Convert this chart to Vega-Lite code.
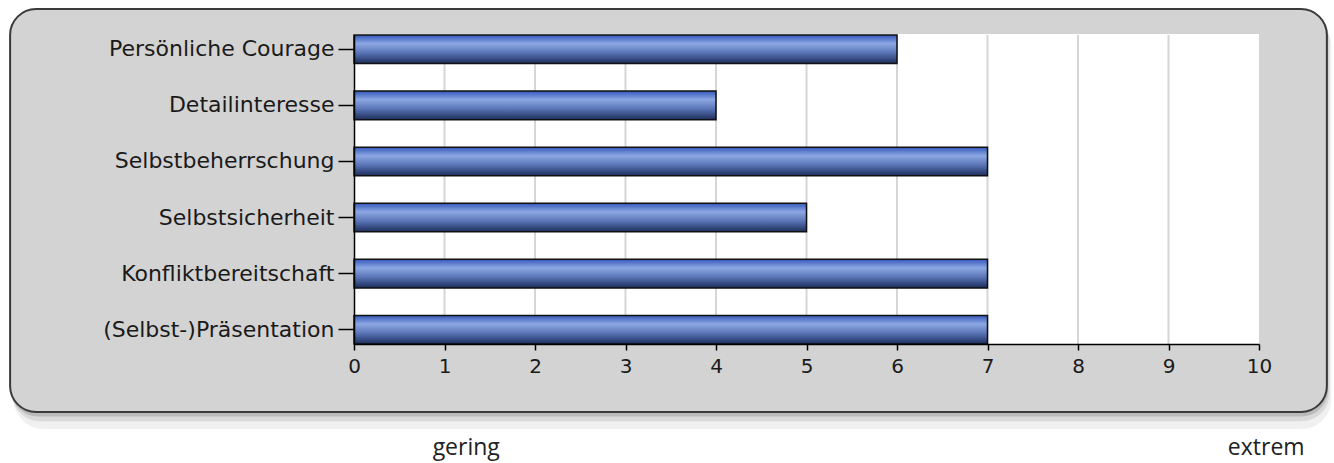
{
  "$schema": "https://vega.github.io/schema/vega-lite/v6.json",
  "width": 905,
  "height": 309,
  "autosize": {"type": "none"},
  "padding": {"left": 354, "top": 35, "right": 75, "bottom": 119},
  "background": "white",
  "config": {
    "view": {"stroke": null, "fill": null},
    "font": "DejaVu Sans"
  },
  "data": {"values": [
    {"name": "Persönliche Courage", "value": 6},
    {"name": "Detailinteresse", "value": 4},
    {"name": "Selbstbeherrschung", "value": 7},
    {"name": "Selbstsicherheit", "value": 5},
    {"name": "Konfliktbereitschaft", "value": 7},
    {"name": "(Selbst-)Präsentation", "value": 7}
  ]},
  "resolve": {"scale": {"y": "independent"}},
  "layer": [
    {
      "data": {"values": [{}]},
      "mark": {"type": "rect", "fill": "#000000", "opacity": 0.06, "cornerRadius": 30},
      "encoding": {
        "x": {"datum": -3.76, "type": "quantitative", "scale": {"domain": [0, 10]},
          "axis": {"title": null, "zindex": 1, "values": [0, 1, 2, 3, 4, 5, 6, 7, 8, 9, 10], "grid": false,
            "labelFont": "DejaVu Sans", "labelFontSize": 20, "labelColor": "#1a1a1a", "labelAngle": 0,
            "tickSize": 6, "tickColor": "#000000", "tickWidth": 1.5, "domainColor": "#000000", "domainWidth": 1.5,
            "labelPadding": 6, "labelFlush": false}},
        "x2": {"datum": 10.8},
        "y": {"datum": 1.06, "type": "quantitative", "scale": {"domain": [0, 1]}, "axis": null},
        "y2": {"datum": -0.275}
      }
    },
    {
      "data": {"values": [{}]},
      "mark": {"type": "rect", "fill": "#000000", "opacity": 0.09, "cornerRadius": 28},
      "encoding": {
        "x": {"datum": -3.78, "type": "quantitative", "scale": {"domain": [0, 10]},
          "axis": {"title": null, "zindex": 1, "values": [0, 1, 2, 3, 4, 5, 6, 7, 8, 9, 10], "grid": false,
            "labelFont": "DejaVu Sans", "labelFontSize": 20, "labelColor": "#1a1a1a", "labelAngle": 0,
            "tickSize": 6, "tickColor": "#000000", "tickWidth": 1.5, "domainColor": "#000000", "domainWidth": 1.5,
            "labelPadding": 6, "labelFlush": false}},
        "x2": {"datum": 10.78},
        "y": {"datum": 1.07, "type": "quantitative", "scale": {"domain": [0, 1]}, "axis": null},
        "y2": {"datum": -0.25}
      }
    },
    {
      "data": {"values": [{}]},
      "mark": {"type": "rect", "fill": "#000000", "opacity": 0.14, "cornerRadius": 27},
      "encoding": {
        "x": {"datum": -3.79, "type": "quantitative", "scale": {"domain": [0, 10]},
          "axis": {"title": null, "zindex": 1, "values": [0, 1, 2, 3, 4, 5, 6, 7, 8, 9, 10], "grid": false,
            "labelFont": "DejaVu Sans", "labelFontSize": 20, "labelColor": "#1a1a1a", "labelAngle": 0,
            "tickSize": 6, "tickColor": "#000000", "tickWidth": 1.5, "domainColor": "#000000", "domainWidth": 1.5,
            "labelPadding": 6, "labelFlush": false}},
        "x2": {"datum": 10.765},
        "y": {"datum": 1.078, "type": "quantitative", "scale": {"domain": [0, 1]}, "axis": null},
        "y2": {"datum": -0.235}
      }
    },
    {
      "data": {"values": [{}]},
      "mark": {"type": "rect", "fill": "#d3d3d3", "stroke": "#3a3a3a", "strokeWidth": 2, "cornerRadius": 26},
      "encoding": {
        "x": {"datum": -3.8, "type": "quantitative", "scale": {"domain": [0, 10]},
          "axis": {"title": null, "zindex": 1, "values": [0, 1, 2, 3, 4, 5, 6, 7, 8, 9, 10], "grid": false,
            "labelFont": "DejaVu Sans", "labelFontSize": 20, "labelColor": "#1a1a1a", "labelAngle": 0,
            "tickSize": 6, "tickColor": "#000000", "tickWidth": 1.5, "domainColor": "#000000", "domainWidth": 1.5,
            "labelPadding": 6, "labelFlush": false}},
        "x2": {"datum": 10.75},
        "y": {"datum": 1.084, "type": "quantitative", "scale": {"domain": [0, 1]}, "axis": null},
        "y2": {"datum": -0.22}
      }
    },
    {
      "data": {"values": [{}]},
      "mark": {"type": "rect", "fill": "#ffffff"},
      "encoding": {
        "x": {"datum": 0, "type": "quantitative", "scale": {"domain": [0, 10]},
          "axis": {"title": null, "zindex": 1, "values": [0, 1, 2, 3, 4, 5, 6, 7, 8, 9, 10], "grid": false,
            "labelFont": "DejaVu Sans", "labelFontSize": 20, "labelColor": "#1a1a1a", "labelAngle": 0,
            "tickSize": 6, "tickColor": "#000000", "tickWidth": 1.5, "domainColor": "#000000", "domainWidth": 1.5,
            "labelPadding": 6, "labelFlush": false}},
        "x2": {"datum": 10},
        "y": {"datum": 0, "type": "quantitative", "scale": {"domain": [0, 1]}, "axis": null},
        "y2": {"datum": 1.003}
      }
    },
    {
      "data": {"values": [{"v": 1}, {"v": 2}, {"v": 3}, {"v": 4}, {"v": 5}, {"v": 6}, {"v": 7}, {"v": 8}, {"v": 9}]},
      "mark": {"type": "rule", "color": "#d6d6d6", "strokeWidth": 2},
      "encoding": {
        "x": {"field": "v", "type": "quantitative", "scale": {"domain": [0, 10]},
          "axis": {"title": null, "zindex": 1, "values": [0, 1, 2, 3, 4, 5, 6, 7, 8, 9, 10], "grid": false,
            "labelFont": "DejaVu Sans", "labelFontSize": 20, "labelColor": "#1a1a1a", "labelAngle": 0,
            "tickSize": 6, "tickColor": "#000000", "tickWidth": 1.5, "domainColor": "#000000", "domainWidth": 1.5,
            "labelPadding": 6, "labelFlush": false}}
      }
    },
    {
      "mark": {
        "type": "bar",
        "fill": {
          "gradient": "linear",
          "x1": 0, "y1": 0, "x2": 0, "y2": 1,
          "stops": [
            {"offset": 0, "color": "#3458bb"},
            {"offset": 0.3, "color": "#8ca7e2"},
            {"offset": 0.6, "color": "#5d79ba"},
            {"offset": 1, "color": "#1c2d5c"}
          ]
        },
        "stroke": "#111111",
        "strokeWidth": 1.5
      },
      "encoding": {
        "y": {
          "field": "name", "type": "nominal", "sort": null,
          "scale": {"paddingInner": 0.49, "paddingOuter": 0},
          "axis": {
            "title": null, "labelFont": "DejaVu Sans", "labelFontSize": 22, "labelColor": "#1a1a1a",
            "tickSize": 16, "tickColor": "#000000", "tickWidth": 1.5, "labelPadding": 4,
            "domainColor": "#000000", "domainWidth": 1.5, "zindex": 1, "labelLimit": 400
          }
        },
        "x": {
          "field": "value", "type": "quantitative", "scale": {"domain": [0, 10]},
          "axis": {"title": null, "zindex": 1, "values": [0, 1, 2, 3, 4, 5, 6, 7, 8, 9, 10], "grid": false,
            "labelFont": "DejaVu Sans", "labelFontSize": 20, "labelColor": "#1a1a1a", "labelAngle": 0,
            "tickSize": 6, "tickColor": "#000000", "tickWidth": 1.5, "domainColor": "#000000", "domainWidth": 1.5,
            "labelPadding": 6, "labelFlush": false}
        }
      }
    },
    {
      "data": {"values": [{}]},
      "mark": {"type": "text", "text": "gering", "font": "Open Sans", "fontSize": 23, "color": "#222222", "align": "center", "baseline": "alphabetic"},
      "encoding": {
        "x": {"datum": 1.24, "type": "quantitative", "scale": {"domain": [0, 10]},
          "axis": {"title": null, "zindex": 1, "values": [0, 1, 2, 3, 4, 5, 6, 7, 8, 9, 10], "grid": false,
            "labelFont": "DejaVu Sans", "labelFontSize": 20, "labelColor": "#1a1a1a", "labelAngle": 0,
            "tickSize": 6, "tickColor": "#000000", "tickWidth": 1.5, "domainColor": "#000000", "domainWidth": 1.5,
            "labelPadding": 6, "labelFlush": false}},
        "y": {"datum": -0.36, "type": "quantitative", "scale": {"domain": [0, 1]}, "axis": null}
      }
    },
    {
      "data": {"values": [{}]},
      "mark": {"type": "text", "text": "extrem", "font": "Open Sans", "fontSize": 23, "color": "#222222", "align": "center", "baseline": "alphabetic"},
      "encoding": {
        "x": {"datum": 10.08, "type": "quantitative", "scale": {"domain": [0, 10]},
          "axis": {"title": null, "zindex": 1, "values": [0, 1, 2, 3, 4, 5, 6, 7, 8, 9, 10], "grid": false,
            "labelFont": "DejaVu Sans", "labelFontSize": 20, "labelColor": "#1a1a1a", "labelAngle": 0,
            "tickSize": 6, "tickColor": "#000000", "tickWidth": 1.5, "domainColor": "#000000", "domainWidth": 1.5,
            "labelPadding": 6, "labelFlush": false}},
        "y": {"datum": -0.36, "type": "quantitative", "scale": {"domain": [0, 1]}, "axis": null}
      }
    }
  ]
}
